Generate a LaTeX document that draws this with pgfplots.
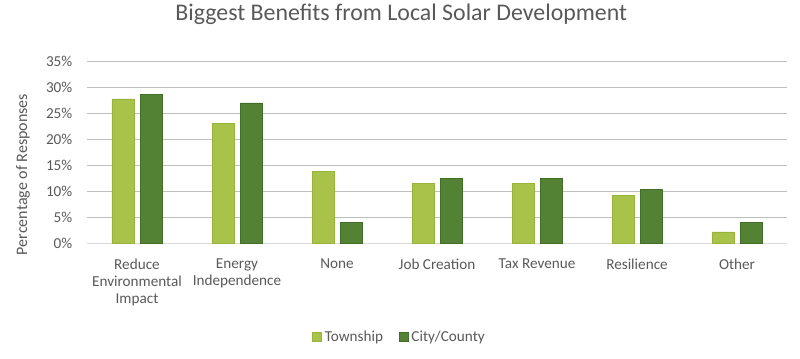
\documentclass[border=0pt]{standalone}
\usepackage{pgfplots}
\pgfplotsset{compat=1.18}
\usepackage{fontspec}
\setmainfont{Carlito}
\definecolor{lightg}{RGB}{168,194,74}
\definecolor{lightgd}{RGB}{150,180,60}
\definecolor{darkg}{RGB}{84,130,53}
\definecolor{darkgd}{RGB}{66,110,40}
\definecolor{txt}{RGB}{89,89,89}
\definecolor{grid}{RGB}{217,217,217}
\begin{document}
\begin{tikzpicture}
\path[use as bounding box] (-65.25pt,-86.775pt) rectangle (534.75pt,182.475pt);
\begin{axis}[
  at={(0,0)}, anchor=south west,
  scale only axis,
  width=525pt, height=136.5pt,
  xmin=-0.5, xmax=6.5, ymin=0, ymax=35,
  ybar=4.5pt, bar width=16.5pt,
  xtick={0,1,2,3,4,5,6},
  xticklabels={{Reduce\\Environmental\\Impact},{Energy\\Independence},None,Job Creation,Tax Revenue,Resilience,Other},
  ytick={0,5,10,15,20,25,30,35},
  yticklabel={\pgfmathprintnumber{\tick}\%},
  /pgf/number format/assume math mode=true,
  major tick length=0pt,
  xtick style={draw=none}, ytick style={draw=none},
  xmajorgrids=false, ymajorgrids=true, grid style={grid, line width=0.75pt},
  axis lines*=left,
  x axis line style={grid, line width=0.75pt, -},
  y axis line style={draw=none},
  tick label style={font=\fontsize{11.4}{12.8}\selectfont, text=txt},
  xticklabel style={align=center, yshift=-8pt},
  yticklabel style={xshift=-7.5pt},
  ylabel={Percentage of Responses},
  ylabel style={at={(axis description cs:-0.0914,0.378)}, anchor=center, font=\fontsize{12}{14}\selectfont, text=txt},
  title={Biggest Benefits from Local Solar Development},
  title style={at={(axis description cs:0.449,1.214)}, anchor=center, font=\fontsize{17.9}{20}\selectfont, text=txt},
  legend style={at={(axis description cs:0.447,-0.515)}, anchor=center, draw=none, fill=none, legend columns=2, font=\fontsize{11.4}{13}\selectfont, text=txt, /tikz/every even column/.append style={column sep=10pt}},
  legend image code/.code={\fill[#1] (0pt,-3.4pt) rectangle (6.8pt,3.4pt);},
]
\addplot[fill=lightg, draw=lightgd, line width=0.5pt] coordinates {(0,27.75) (1,23.1) (2,13.8) (3,11.5) (4,11.5) (5,9.2) (6,2.2)};
\addplot[fill=darkg, draw=darkgd, line width=0.5pt] coordinates {(0,28.7) (1,27.0) (2,4.0) (3,12.4) (4,12.4) (5,10.4) (6,4.0)};
\legend{Township, City/County}
\end{axis}
\end{tikzpicture}
\end{document}
